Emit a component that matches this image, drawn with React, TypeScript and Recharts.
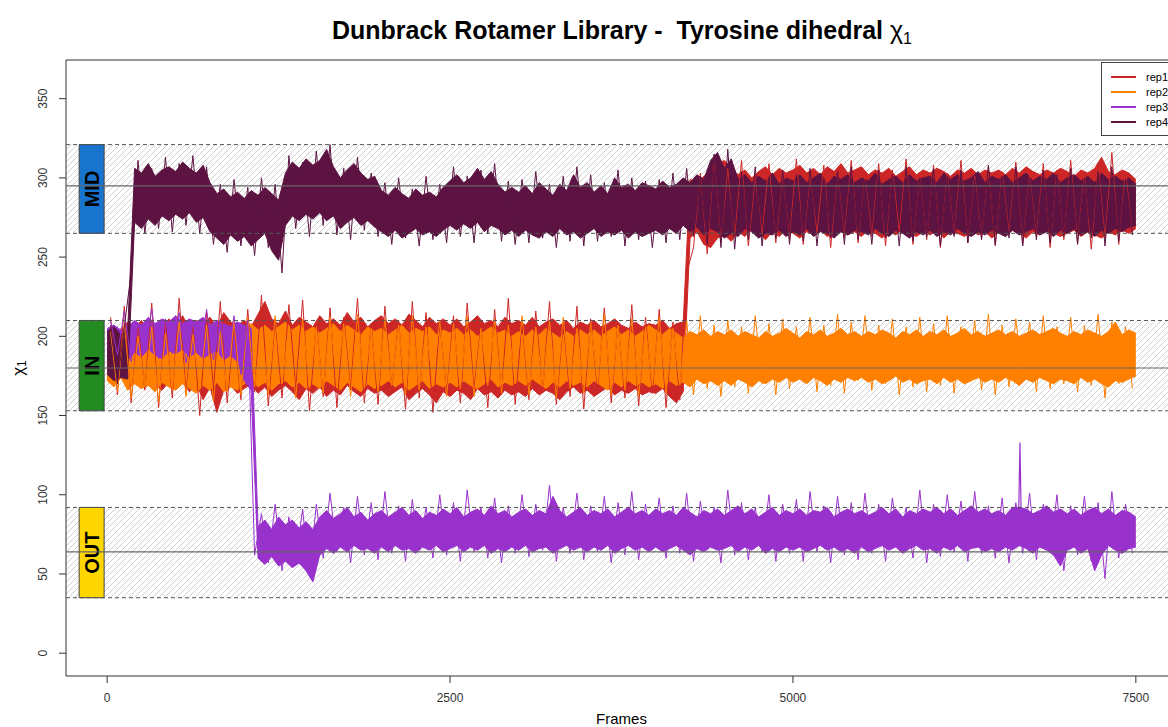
import React from 'react';
import { ComposedChart, Area, Line, XAxis, YAxis, ReferenceArea, ReferenceLine, Legend } from 'recharts';

const FRAME_STEP = 50;
const SPIKE_OFFSET = 25;
const X_TICKS = [0, 2500, 5000, 7500];
const Y_TICKS = [0, 50, 100, 150, 200, 250, 300, 350];
const X_DOMAIN = [-300, 7800];
const Y_DOMAIN = [-14.4, 374.4];

const SERIES_NAMES = ['rep1', 'rep2', 'rep3', 'rep4'];
const SERIES_COLORS = ['#CD2626', '#FF7F00', '#9932CC', '#5C1342'];

const ZONE_NAMES = ['MID', 'IN', 'OUT'];
const ZONE_LOW = [265, 153, 35];
const ZONE_HIGH = [321, 210, 92];
const ZONE_CENTER = [295, 180, 64];
const ZONE_COLORS = ['#1874CD', '#228B22', '#FFD700'];
const ZONE_BOX_X = [-204, -22];

// envelope (low / high) of each replica, one value every FRAME_STEP frames
const rep1Hi = [
  204, 207, 202, 209, 205, 210, 203, 208, 206, 211,
  207, 213, 205, 210, 208, 212, 206, 215, 209, 207,
  210, 206, 214, 222, 211, 208, 216, 207, 212, 209,
  206, 213, 208, 211, 207, 215, 209, 212, 206, 210,
  213, 208, 211, 207, 214, 210, 206, 212, 208, 211,
  207, 211, 206, 209, 213, 208, 210, 206, 212, 208,
  210, 207, 212, 206, 209, 211, 207, 210, 205, 209,
  207, 210, 206, 208, 211, 207, 205, 209, 206, 208,
  207, 210, 205, 208, 209, 299, 297, 301, 304, 309,
  311, 306, 302, 305, 300, 304, 307, 302, 306, 303,
  305, 308, 303, 306, 302, 307, 304, 309, 303, 305,
  307, 302, 305, 303, 306, 301, 304, 307, 302, 305,
  303, 306, 304, 301, 305, 303, 306, 302, 305, 303,
  305, 302, 306, 303, 307, 304, 302, 305, 303, 306,
  304, 301, 305, 303, 306, 313, 304, 302, 305, 303,
  299,
];
const rep1Lo = [
  174, 170, 176, 168, 172, 167, 173, 169, 166, 171,
  168, 172, 165, 170, 160, 168, 152, 166, 169, 164,
  167, 170, 164, 168, 162, 166, 169, 165, 160, 167,
  164, 168, 162, 166, 163, 169, 165, 162, 167, 164,
  166, 162, 165, 168, 160, 164, 167, 163, 158, 165,
  162, 166, 164, 160, 167, 163, 165, 161, 166, 163,
  165, 162, 167, 163, 166, 164, 160, 165, 168, 164,
  166, 162, 165, 168, 163, 166, 164, 167, 163, 165,
  164, 167, 162, 158, 165, 262, 266, 258, 256, 262,
  264, 260, 266, 263, 268, 265, 261, 266, 263, 267,
  265, 262, 266, 264, 267, 263, 265, 268, 264, 266,
  263, 267, 265, 262, 266, 264, 268, 265, 263, 266,
  264, 267, 262, 266, 265, 263, 267, 264, 266, 262,
  266, 263, 267, 265, 262, 266, 264, 267, 265, 263,
  265, 267, 263, 266, 264, 262, 266, 264, 267, 265,
  268,
];
const rep2Hi = [
  203, 199, 205, 197, 201, 195, 199, 193, 198, 196,
  199, 194, 200, 196, 198, 195, 201, 197, 199, 202,
  205, 208, 204, 207, 203, 206, 209, 204, 207, 203,
  206, 202, 205, 208, 203, 207, 204, 201, 206, 203,
  205, 201, 204, 207, 202, 205, 203, 206, 201, 204,
  202, 205, 201, 204, 200, 203, 206, 202, 204, 200,
  203, 200, 204, 201, 205, 202, 199, 203, 200, 204,
  201, 204, 200, 203, 206, 201, 204, 200, 203, 207,
  204, 201, 205, 202, 199, 203, 201, 204, 200, 203,
  201, 204, 200, 203, 201, 199, 203, 200, 202, 205,
  202, 199, 203, 201, 204, 200, 202, 205, 201, 203,
  200, 203, 201, 204, 202, 199, 203, 201, 204, 200,
  203, 201, 204, 200, 202, 205, 201, 203, 200, 202,
  204, 201, 203, 200, 202, 204, 201, 203, 205, 202,
  200, 203, 201, 204, 202, 200, 203, 209, 201, 204,
  202,
];
const rep2Lo = [
  172, 168, 174, 166, 170, 167, 169, 165, 171, 168,
  166, 170, 167, 164, 169, 166, 171, 165, 168, 166,
  170, 173, 168, 171, 166, 170, 172, 168, 171, 167,
  170, 167, 172, 169, 166, 171, 168, 165, 170, 167,
  169, 172, 168, 171, 166, 169, 172, 167, 170, 168,
  171, 168, 172, 169, 167, 170, 173, 168, 171, 169,
  172, 169, 173, 170, 167, 171, 168, 172, 169, 171,
  168, 172, 169, 166, 171, 168, 172, 169, 171, 168,
  170, 167, 172, 169, 171, 168, 173, 170, 172, 169,
  172, 169, 173, 171, 168, 172, 170, 173, 171, 174,
  171, 173, 170, 174, 172, 169, 173, 171, 174, 172,
  174, 171, 173, 170, 172, 175, 171, 173, 170, 172,
  173, 170, 174, 171, 173, 170, 172, 174, 171, 173,
  171, 174, 172, 169, 173, 171, 174, 172, 170, 173,
  172, 170, 174, 171, 173, 170, 168, 172, 171, 173,
  175,
];
const rep3Hi = [
  205, 207, 204, 206, 210, 207, 212, 208, 211, 209,
  213, 208, 211, 209, 212, 207, 210, 208, 206, 209,
  207, 205, 80, 84, 78, 86, 81, 84, 79, 83,
  78, 86, 90, 85, 88, 92, 86, 89, 84, 88,
  90, 86, 89, 92, 87, 90, 85, 89, 87, 91,
  88, 92, 86, 89, 91, 87, 93, 88, 90, 86,
  89, 91, 87, 90, 88, 99, 90, 86, 89, 92,
  87, 90, 88, 91, 86, 89, 92, 88, 90, 87,
  91, 88, 90, 87, 92, 89, 86, 90, 88, 91,
  87, 90, 93, 88, 91, 86, 89, 92, 87, 90,
  88, 91, 87, 90, 89, 92, 86, 89, 91, 88,
  90, 87, 89, 92, 88, 91, 86, 90, 88, 91,
  89, 92, 88, 91, 87, 90, 93, 89, 91, 88,
  90, 87, 92, 92, 91, 88, 90, 93, 89, 91,
  88, 91, 87, 90, 92, 88, 91, 87, 90, 89,
  86,
];
const rep3Lo = [
  186, 183, 188, 185, 190, 187, 192, 188, 186, 191,
  189, 192, 187, 190, 186, 189, 191, 185, 188, 184,
  172, 166, 60, 56, 61, 55, 58, 54, 57, 52,
  45, 62, 66, 63, 67, 64, 68, 65, 66, 63,
  67, 64, 68, 65, 66, 63, 67, 65, 68, 64,
  66, 68, 64, 67, 65, 68, 63, 66, 64, 67,
  65, 68, 64, 66, 67, 63, 66, 68, 65, 67,
  64, 67, 65, 68, 63, 66, 68, 65, 67, 64,
  67, 64, 66, 68, 65, 62, 66, 64, 67, 65,
  66, 68, 64, 67, 65, 68, 63, 66, 64, 67,
  65, 67, 64, 66, 68, 65, 67, 64, 66, 63,
  67, 64, 66, 68, 65, 67, 63, 66, 68, 65,
  66, 63, 67, 65, 68, 64, 66, 67, 64, 66,
  64, 67, 65, 68, 66, 63, 67, 65, 62, 55,
  65, 67, 63, 66, 52, 62, 68, 65, 63, 66,
  67,
];
const rep4Hi = [
  203, 206, 201, 204, 306, 303, 309, 301, 305, 307,
  304, 310, 306, 303, 308, 297, 290, 293, 288, 291,
  287, 292, 289, 294, 290, 286, 303, 310, 306, 312,
  308, 311, 318, 307, 300, 305, 309, 303, 299, 301,
  292, 289, 294, 290, 287, 293, 289, 291, 288, 294,
  298, 302, 297, 300, 306, 299, 304, 296, 291, 294,
  291, 295, 290, 297, 293, 289, 296, 292, 302, 294,
  297, 291, 295, 290, 300, 294, 296, 292, 297, 295,
  293, 298, 294, 296, 300, 297, 302, 299, 311, 316,
  306, 312, 299, 302, 297, 301, 298, 303, 296, 300,
  298, 302, 297, 300, 303, 296, 301, 299, 302, 297,
  300, 298, 303, 296, 299, 301, 297, 302, 298, 300,
  301, 297, 303, 299, 302, 298, 300, 304, 297, 301,
  299, 302, 297, 300, 303, 298, 301, 299, 303, 297,
  300, 302, 298, 301, 297, 303, 299, 301, 298, 300,
  296,
];
const rep4Lo = [
  176, 172, 174, 173, 272, 268, 274, 270, 276, 273,
  277, 274, 278, 272, 275, 266, 262, 258, 264, 260,
  263, 257, 261, 265, 254, 248, 270, 276, 273, 277,
  274, 278, 273, 276, 268, 272, 275, 270, 273, 269,
  266, 263, 267, 262, 265, 268, 264, 266, 263, 267,
  270, 267, 271, 268, 272, 266, 270, 268, 264, 267,
  263, 267, 264, 262, 266, 263, 268, 264, 266, 262,
  265, 268, 263, 266, 264, 267, 262, 266, 263, 265,
  267, 264, 268, 265, 270, 266, 269, 264, 268, 266,
  262, 265, 263, 268, 266, 262, 265, 264, 267, 263,
  266, 264, 268, 263, 266, 265, 262, 266, 264, 267,
  266, 264, 268, 265, 263, 267, 265, 262, 266, 264,
  267, 263, 266, 264, 268, 265, 263, 266, 264, 267,
  265, 263, 267, 264, 266, 268, 264, 266, 263, 267,
  265, 268, 264, 266, 263, 267, 265, 268, 266, 269,
  270,
];

// single-frame excursions, one value every FRAME_STEP frames starting at SPIKE_OFFSET
const rep1Spikes = [
  212, 163, 219, 158, 208, 166, 221, 155, 210, 161,
  224, 164, 209, 150, 215, 167, 222, 158, 207, 160,
  217, 165, 226, 156, 211, 161, 220, 167, 223, 153,
  209, 162, 218, 155, 212, 166, 224, 158, 208, 157,
  219, 167, 210, 154, 222, 161, 215, 152, 209, 164,
  213, 158, 221, 166, 208, 155, 217, 163, 224, 157,
  210, 160, 216, 165, 222, 157, 209, 162, 219, 154,
  211, 166, 218, 158, 209, 161, 220, 156, 212, 164,
  217, 155, 209, 160, 240, 256, 303, 252, 314, 259,
  306, 262, 311, 257, 301, 264, 309, 259, 303, 261,
  312, 258, 302, 265, 308, 256, 304, 262, 311, 259,
  301, 263, 309, 257, 305, 266, 312, 258, 302, 261,
  308, 256, 303, 264, 311, 259, 301, 262, 307, 257,
  304, 265, 310, 258, 302, 263, 309, 256, 305, 261,
  311, 259, 303, 255, 308, 262, 316, 258, 304, 264,
];
const rep2Spikes = [
  203, 165, 208, 161, 200, 168, 206, 158, 202, 166,
  209, 162, 201, 167, 207, 159, 203, 165, 210, 163,
  212, 168, 205, 163, 213, 170, 207, 161, 211, 167,
  206, 164, 212, 170, 208, 162, 214, 168, 205, 165,
  211, 169, 207, 163, 213, 166, 206, 171, 210, 162,
  208, 167, 213, 162, 205, 169, 211, 164, 207, 170,
  213, 163, 206, 168, 210, 161, 212, 167, 205, 164,
  209, 170, 214, 163, 207, 166, 211, 162, 206, 169,
  212, 164, 205, 169, 210, 163, 213, 167, 207, 162,
  210, 168, 206, 164, 213, 170, 208, 163, 211, 167,
  206, 171, 212, 165, 207, 169, 214, 164, 209, 172,
  213, 166, 207, 170, 211, 163, 206, 168, 212, 165,
  208, 169, 213, 164, 206, 171, 210, 166, 214, 163,
  207, 168, 211, 172, 209, 165, 213, 167, 206, 170,
  212, 165, 207, 169, 214, 161, 209, 170, 206, 167,
];
const rep3Spikes = [
  210, 188, 216, 184, 208, 190, 217, 186, 211, 189,
  215, 183, 209, 188, 217, 185, 210, 187, 213, 176,
  210, 62, 88, 57, 94, 52, 86, 58, 91, 49,
  94, 60, 101, 64, 92, 57, 99, 62, 95, 59,
  102, 63, 93, 58, 97, 65, 92, 60, 100, 62,
  95, 58, 103, 64, 92, 60, 98, 57, 93, 63,
  100, 61, 94, 65, 106, 58, 92, 63, 101, 59,
  93, 64, 99, 57, 95, 62, 102, 59, 94, 65,
  98, 60, 93, 63, 101, 58, 96, 65, 92, 57,
  103, 62, 95, 59, 92, 64, 100, 58, 94, 63,
  97, 58, 102, 64, 93, 57, 99, 62, 95, 59,
  101, 63, 94, 58, 98, 65, 92, 60, 103, 57,
  94, 61, 100, 64, 96, 58, 102, 63, 93, 60,
  98, 57, 95, 63, 101, 59, 94, 64, 100, 52,
  93, 62, 99, 58, 95, 47, 102, 60, 94, 63,
];
const rep4Spikes = [
  207, 170, 206, 240, 311, 265, 306, 268, 313, 266,
  309, 270, 314, 265, 307, 258, 296, 253, 299, 257,
  294, 251, 300, 256, 296, 240, 314, 268, 310, 263,
  317, 270, 321, 264, 306, 261, 313, 267, 303, 263,
  297, 258, 300, 262, 293, 257, 301, 261, 296, 259,
  307, 263, 301, 259, 305, 265, 309, 260, 298, 258,
  299, 259, 304, 262, 296, 256, 301, 260, 307, 257,
  302, 260, 297, 263, 305, 257, 300, 261, 298, 256,
  299, 259, 303, 261, 306, 263, 301, 258, 315, 256,
  318, 255, 304, 261, 307, 257, 300, 262, 305, 258,
  302, 260, 306, 257, 300, 262, 304, 258, 307, 261,
  299, 258, 305, 262, 302, 257, 307, 260, 300, 263,
  306, 257, 301, 263, 305, 259, 299, 261, 308, 258,
  301, 262, 307, 257, 300, 261, 305, 259, 302, 263,
  306, 258, 300, 262, 304, 257, 307, 260, 299, 264,
];
// isolated single-frame spike: frame, value
const rep3SpikeFrames = [6645, 6655, 6665];
const rep3SpikeValues = [84, 133, 80];

const LOWS = [rep1Lo, rep2Lo, rep3Lo, rep4Lo];
const HIGHS = [rep1Hi, rep2Hi, rep3Hi, rep4Hi];
const SPIKES = [rep1Spikes, rep2Spikes, rep3Spikes, rep4Spikes];

const data = rep1Hi.map((_, i) => {
  const row: any = { frame: i * FRAME_STEP };
  SERIES_NAMES.forEach((name, s) => {
    row[name] = [LOWS[s][i], HIGHS[s][i]];
  });
  return row;
});
const spikeData = SPIKES.map((arr) => arr.map((v, i) => ({ frame: SPIKE_OFFSET + i * FRAME_STEP, v })));
const rep3Isolated = rep3SpikeFrames.map((f, i) => ({ frame: f, v: rep3SpikeValues[i] }));

const FONT = '"Liberation Sans", Arial, Helvetica, sans-serif';

const YTick = (props: any) => {
  const { x, y, payload } = props;
  const cx = x - 14;
  return (
    <text x={cx} y={y} transform={`rotate(-90 ${cx} ${y})`} textAnchor="middle" dominantBaseline="central"
      fontSize={12} fill="#333" fontFamily={FONT}>{payload.value}</text>
  );
};

const makeZoneLabel = (text: string) => (props: any) => {
  const vb = props.viewBox || {};
  const cx = vb.x + vb.width / 2;
  const cy = vb.y + vb.height / 2;
  return (
    <text x={cx} y={cy} transform={`rotate(-90 ${cx} ${cy})`} textAnchor="middle" dominantBaseline="central"
      fontSize={20} fontWeight="bold" fontFamily={FONT} fill="#000">{text}</text>
  );
};

const YLabel = () => (
  <text x={18} y={368} transform="rotate(-90 18 368)" textAnchor="middle" dominantBaseline="central"
    fontSize={17} fontFamily={FONT} fill="#000">
    χ<tspan fontSize={12} dy={4}>1</tspan>
  </text>
);

const XLabel = (props: any) => {
  const vb = props.viewBox || {};
  const cx = vb.x + vb.width / 2;
  return (
    <text x={cx} y={724} textAnchor="middle" fontSize={15} fontFamily={FONT} fill="#000">Frames</text>
  );
};

const renderLegend = () => (
  <div style={{ border: '1px solid #444', background: '#fff', padding: '6px 30px 6px 9px', fontFamily: FONT, fontSize: 11, color: '#000', boxSizing: 'border-box', width: 120 }}>
    {SERIES_NAMES.map((name, s) => (
      <div key={name} style={{ display: 'flex', alignItems: 'center', height: 15 }}>
        <span style={{ display: 'inline-block', flexShrink: 0, width: 25, height: 0, borderTop: `2px solid ${SERIES_COLORS[s]}`, marginRight: 10 }} />
        <span>{name}</span>
      </div>
    ))}
  </div>
);

export default function App() {
  return (
    <div style={{ position: 'fixed', left: 0, top: 0, width: 1168, height: 727, overflow: 'hidden', background: '#fff' }}>
      <svg width={0} height={0} style={{ position: 'absolute' }}>
        <defs>
          <pattern id="hatch" patternUnits="userSpaceOnUse" width={6} height={6}>
            <path d="M0,6 L6,0 M-1,1 L1,-1 M5,7 L7,5" stroke="#c4c4c4" strokeWidth={0.8} />
          </pattern>
        </defs>
      </svg>
      <div style={{ position: 'absolute', left: 222, top: 18, width: 800, textAlign: 'center', fontFamily: FONT, fontSize: 25, fontWeight: 'bold', lineHeight: '25px', color: '#000', whiteSpace: 'pre' }}>
        {'Dunbrack Rotamer Library -  Tyrosine dihedral '}
        <span style={{ fontWeight: 'normal', fontSize: 25 }}>χ<span style={{ fontSize: 16, verticalAlign: -5 }}>1</span></span>
      </div>
      <ComposedChart width={1200} height={727} data={data} margin={{ top: 60, right: 23, bottom: 0, left: 0 }}>
        {ZONE_NAMES.map((z, k) => (
          <ReferenceArea key={`h${z}`} y1={ZONE_LOW[k]} y2={ZONE_HIGH[k]} x1={X_DOMAIN[0]} x2={X_DOMAIN[1]} fill="url(#hatch)" fillOpacity={1} stroke="none" />
        ))}
        <XAxis dataKey="frame" type="number" domain={X_DOMAIN} ticks={X_TICKS} height={51} tickSize={7} tickMargin={10}
          axisLine={false} tickLine={{ stroke: '#333' }} tick={{ fontSize: 12, fill: '#333', fontFamily: FONT }}
          label={<XLabel />} />
        <YAxis type="number" domain={Y_DOMAIN} ticks={Y_TICKS} width={66} tickSize={7} axisLine={false}
          tickLine={{ stroke: '#333' }} tick={<YTick />} label={<YLabel />} />
        {SERIES_NAMES.flatMap((name, s) => [
          <Area key={`a${name}`} type="linear" dataKey={name} stroke={SERIES_COLORS[s]} strokeWidth={1}
            fill={SERIES_COLORS[s]} fillOpacity={1} isAnimationActive={false} dot={false} activeDot={false} legendType="none" />,
          <Line key={`l${name}`} type="linear" data={spikeData[s]} dataKey="v" stroke={SERIES_COLORS[s]} strokeWidth={1}
            isAnimationActive={false} dot={false} activeDot={false} legendType="none" />,
          ...(name === 'rep3' ? [
            <Line key="l3iso" type="linear" data={rep3Isolated} dataKey="v" stroke={SERIES_COLORS[s]} strokeWidth={1.2}
              isAnimationActive={false} dot={false} activeDot={false} legendType="none" />,
          ] : []),
        ])}
        {ZONE_NAMES.map((z, k) => (
          <ReferenceLine key={`lo${z}`} y={ZONE_LOW[k]} stroke="#555" strokeDasharray="4 3" />
        ))}
        {ZONE_NAMES.map((z, k) => (
          <ReferenceLine key={`hi${z}`} y={ZONE_HIGH[k]} stroke="#555" strokeDasharray="4 3" />
        ))}
        {ZONE_NAMES.map((z, k) => (
          <ReferenceLine key={`c${z}`} y={ZONE_CENTER[k]} stroke="#666" strokeWidth={1.2} />
        ))}
        {ZONE_NAMES.map((z, k) => (
          <ReferenceArea key={`b${z}`} x1={ZONE_BOX_X[0]} x2={ZONE_BOX_X[1]} y1={ZONE_LOW[k]} y2={ZONE_HIGH[k]}
            fill={ZONE_COLORS[k]} fillOpacity={1} stroke="#444" label={makeZoneLabel(z)} />
        ))}
        <ReferenceArea x1={X_DOMAIN[0]} x2={X_DOMAIN[1]} y1={Y_DOMAIN[0]} y2={Y_DOMAIN[1]} fill="none" stroke="#333" strokeWidth={1} />
        <Legend layout="vertical" align="center" verticalAlign="middle" content={renderLegend}
          wrapperStyle={{ left: 1101, top: 62, width: 120, height: 'auto' }} />
      </ComposedChart>
    </div>
  );
}
